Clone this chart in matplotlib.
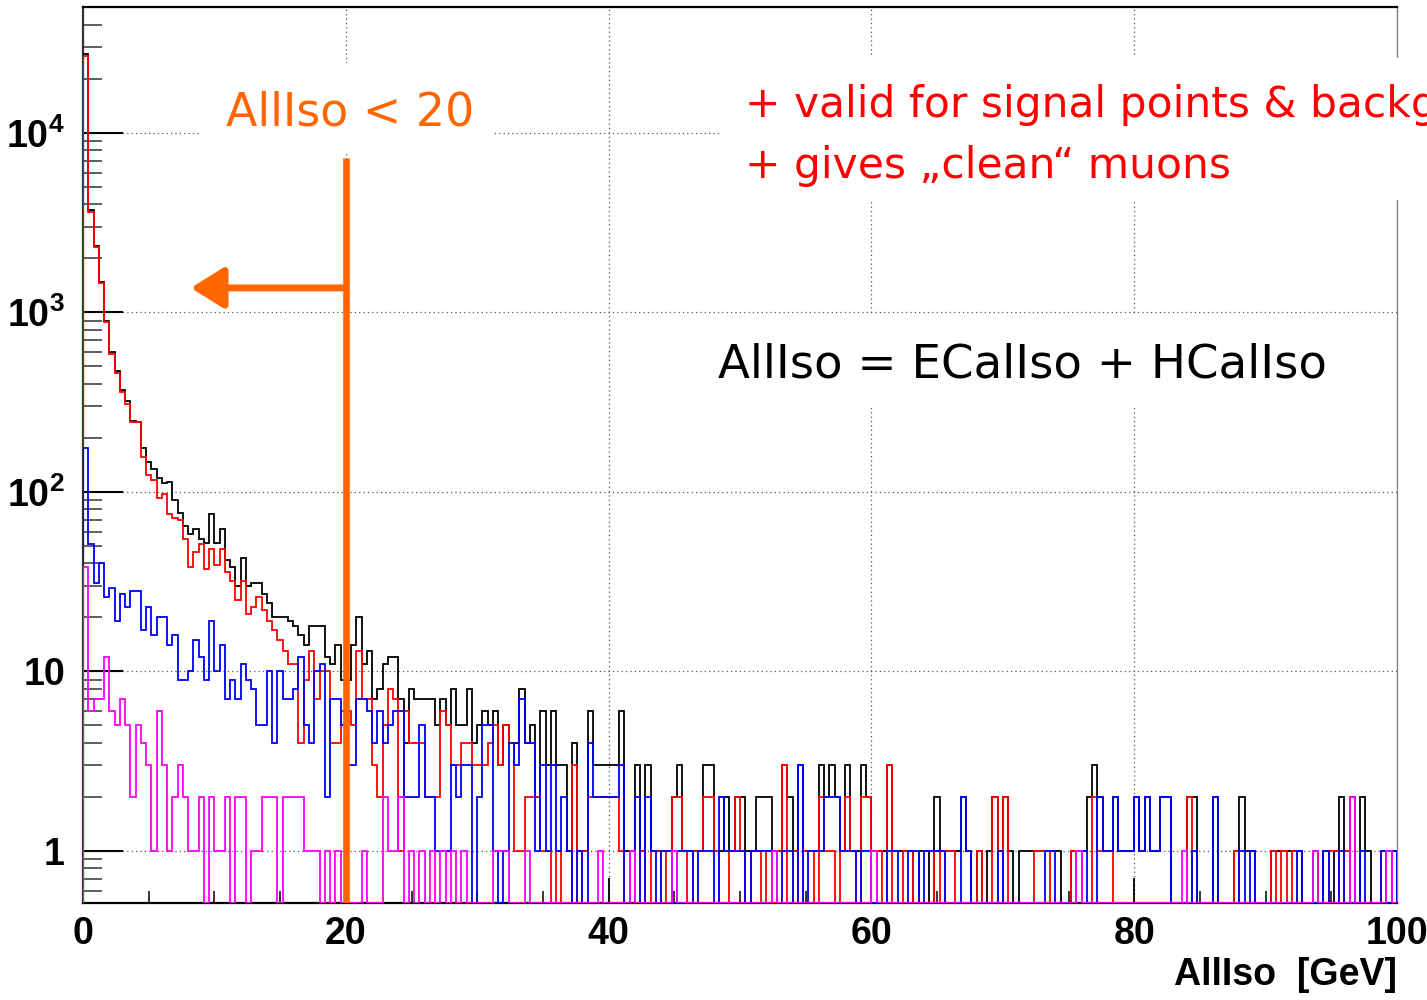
import numpy as np
import matplotlib

matplotlib.use("Agg")
import matplotlib.pyplot as plt
from matplotlib.patches import Rectangle
from matplotlib.ticker import FixedLocator, FixedFormatter, LogLocator, MultipleLocator, NullFormatter

# AllIso histograms, 250 bins of 0.4 GeV between 0 and 100 GeV
BIN_WIDTH = 0.4
N_BINS = 250

black_counts = [
    27500, 3700, 2350, 1480, 900, 600, 470, 370, 320, 250,
    245, 176, 147, 135, 120, 112, 114, 90, 76, 65,
    58, 62, 55, 52, 75, 52, 62, 42, 38, 30,
    43, 30, 31, 31, 27, 24, 20, 20, 20, 19,
    18, 16, 14, 18, 18, 18, 12, 11, 14, 9,
    9, 14, 20, 11, 13, 7, 8, 11, 12, 12,
    7, 4, 8, 7, 7, 7, 7, 5, 7, 5,
    8, 5, 5, 8, 4, 5, 6, 5, 6, 3,
    5, 4, 4, 8, 4, 5, 2, 6, 3, 6,
    3, 3, 1, 4, 1, 1, 6, 3, 3, 3,
    3, 3, 6, 1, 1, 3, 1, 3, 1, 1,
    1, 1, 2, 3, 1, 1, 1, 1, 3, 3,
    1, 1, 2, 1, 2, 2, 1, 1, 2, 2,
    2, 1, 1, 3, 2, 1, 3, 1, 1, 1,
    3, 2, 3, 2, 1, 3, 1, 1, 3, 2,
    1, 1, 1, 3, 1, 1, 1, 1, 0, 1,
    1, 0, 2, 1, 1, 1, 1, 2, 1, 0,
    1, 0, 1, 2, 1, 2, 1, 0, 1, 1,
    1, 1, 1, 1, 1, 1, 0, 0, 1, 1,
    1, 2, 3, 2, 1, 1, 2, 1, 1, 1,
    2, 1, 2, 1, 1, 2, 2, 0, 0, 0,
    2, 2, 0, 0, 0, 2, 0, 0, 0, 1,
    2, 1, 1, 0, 0, 0, 1, 1, 1, 1,
    1, 1, 0, 0, 1, 0, 1, 0, 1, 2,
    1, 2, 0, 2, 1, 0, 0, 1, 1, 1,
]
red_counts = [
    27000, 3650, 2330, 1450, 880, 590, 460, 360, 310, 245,
    245, 157, 124, 117, 92, 98, 75, 72, 70, 55,
    38, 46, 51, 37, 48, 39, 48, 36, 32, 25,
    32, 21, 23, 26, 22, 19, 17, 15, 13, 11,
    11, 4, 9, 13, 7, 10, 10, 4, 4, 6,
    6, 5, 13, 7, 7, 3, 2, 5, 8, 7,
    1, 6, 4, 4, 4, 2, 2, 2, 6, 5,
    3, 3, 4, 4, 3, 3, 3, 4, 5, 3,
    5, 4, 1, 1, 2, 2, 2, 1, 1, 0,
    1, 0, 0, 3, 0, 1, 2, 2, 2, 2,
    2, 2, 1, 0, 1, 0, 1, 0, 1, 1,
    0, 1, 2, 2, 1, 0, 1, 1, 2, 2,
    1, 0, 0, 1, 2, 1, 0, 1, 1, 0,
    1, 0, 1, 3, 0, 1, 0, 1, 1, 0,
    2, 1, 1, 0, 1, 2, 1, 0, 2, 2,
    0, 1, 0, 3, 0, 0, 1, 1, 0, 0,
    0, 0, 1, 0, 1, 1, 0, 0, 0, 0,
    1, 0, 0, 2, 0, 2, 0, 0, 0, 0,
    0, 1, 1, 1, 0, 0, 0, 0, 1, 1,
    0, 0, 2, 1, 1, 1, 0, 0, 0, 0,
    0, 0, 0, 0, 0, 0, 0, 0, 0, 0,
    2, 0, 0, 0, 0, 0, 0, 0, 0, 1,
    0, 0, 0, 0, 0, 0, 1, 0, 1, 0,
    1, 0, 0, 0, 0, 0, 0, 1, 1, 0,
    1, 0, 0, 0, 0, 0, 0, 1, 0, 0,
]
blue_counts = [
    176, 51, 31, 40, 26, 29, 19, 27, 23, 28,
    28, 17, 23, 16, 20, 20, 14, 16, 9, 9,
    10, 15, 12, 9, 19, 10, 14, 7, 9, 7,
    11, 9, 8, 5, 5, 10, 4, 10, 7, 7,
    8, 12, 5, 4, 10, 11, 2, 7, 7, 5,
    3, 3, 7, 7, 6, 4, 6, 4, 5, 6,
    6, 2, 2, 2, 5, 2, 2, 1, 1, 1,
    3, 2, 3, 3, 0, 2, 5, 5, 1, 0,
    1, 4, 3, 7, 4, 4, 1, 3, 1, 3,
    1, 2, 1, 0, 1, 0, 4, 2, 2, 2,
    2, 2, 3, 0, 1, 2, 0, 2, 1, 0,
    1, 1, 0, 1, 1, 1, 0, 1, 1, 1,
    0, 2, 1, 1, 1, 1, 0, 1, 1, 1,
    1, 1, 0, 1, 1, 0, 3, 0, 1, 1,
    1, 2, 2, 2, 1, 1, 1, 0, 1, 1,
    0, 0, 0, 1, 1, 0, 0, 1, 1, 0,
    1, 1, 1, 1, 0, 0, 0, 2, 1, 0,
    0, 0, 0, 0, 1, 0, 0, 0, 0, 0,
    0, 0, 0, 1, 1, 0, 0, 0, 0, 1,
    1, 0, 0, 2, 1, 1, 2, 1, 1, 1,
    2, 1, 2, 1, 1, 2, 2, 0, 0, 0,
    0, 1, 0, 0, 0, 2, 0, 0, 0, 0,
    1, 0, 1, 0, 0, 0, 0, 0, 0, 0,
    0, 1, 0, 0, 0, 0, 1, 0, 0, 1,
    0, 0, 0, 1, 0, 0, 0, 1, 0, 1,
]
magenta_counts = [
    38, 6, 7, 7, 12, 6, 5, 7, 5, 2,
    5, 4, 3, 1, 6, 3, 1, 2, 3, 2,
    1, 1, 2, 0, 2, 1, 1, 2, 0, 2,
    2, 0, 1, 1, 2, 2, 2, 0, 2, 2,
    2, 2, 1, 1, 1, 0, 1, 0, 1, 0,
    0, 0, 0, 1, 0, 0, 0, 2, 1, 1,
    2, 0, 1, 0, 1, 0, 1, 0, 1, 0,
    1, 0, 1, 0, 0, 0, 0, 0, 1, 1,
    1, 0, 0, 0, 1, 0, 0, 0, 0, 0,
    0, 0, 0, 0, 0, 0, 0, 0, 1, 0,
    0, 0, 0, 0, 1, 0, 0, 0, 0, 0,
    0, 0, 1, 0, 0, 0, 0, 0, 0, 0,
    0, 0, 0, 0, 0, 0, 0, 0, 0, 0,
    0, 1, 0, 0, 0, 0, 0, 0, 0, 0,
    0, 0, 0, 0, 0, 0, 0, 0, 0, 0,
    1, 0, 0, 0, 0, 0, 0, 0, 0, 0,
    0, 0, 0, 0, 0, 0, 0, 0, 0, 0,
    0, 0, 0, 0, 0, 0, 0, 0, 0, 0,
    0, 0, 0, 0, 0, 0, 0, 0, 0, 1,
    0, 0, 0, 0, 0, 0, 0, 0, 0, 0,
    0, 0, 0, 0, 0, 0, 0, 0, 0, 1,
    0, 0, 0, 0, 0, 0, 0, 0, 0, 0,
    0, 0, 0, 0, 0, 0, 0, 0, 0, 0,
    0, 0, 0, 0, 1, 0, 0, 0, 0, 0,
    0, 2, 0, 0, 0, 0, 0, 0, 1, 0,
]

y_ticks = [1, 10, 100, 1000, 10000]
y_tick_labels = ["1", "10", r"$\mathbf{10^{2}}$", r"$\mathbf{10^{3}}$", r"$\mathbf{10^{4}}$"]

CUT = 20.0            # AllIso cut [GeV]
CUT_LINE_TOP = 7260   # top of the orange cut line
ARROW_Y = 1370
ARROW_TIP = 8.2
Y_MIN, Y_MAX = 0.513, 50500
ORANGE = "#ff6600"

plt.rcParams["font.family"] = ["Liberation Sans", "DejaVu Sans"]
plt.rcParams["mathtext.fontset"] = "custom"
plt.rcParams["mathtext.bf"] = "Liberation Sans:bold"
plt.rcParams["mathtext.rm"] = "Liberation Sans:bold"

W, H = 1427, 1000
fig = plt.figure(figsize=(W / 100, H / 100), dpi=100)
ax = fig.add_axes([83 / W, 1 - 903 / H, (1397 - 83) / W, (903 - 6.7) / H])

edges = np.arange(N_BINS + 1) * BIN_WIDTH
series = [(black_counts, "#000000"), (red_counts, "#ff0000"),
          (blue_counts, "#0000ff"), (magenta_counts, "#ff00ff")]
for counts, col in series:
    v = np.asarray(counts, dtype=float)
    # empty bins drop to the frame bottom, as ROOT draws them on a log axis
    v = np.where(v > 0, v, Y_MIN)
    ax.stairs(v, edges, baseline=Y_MIN, color=col, lw=1.3, zorder=3)

ax.set_yscale("log")
ax.set_xlim(0, 100)
ax.set_ylim(Y_MIN, Y_MAX)

ax.xaxis.set_major_locator(MultipleLocator(20))
ax.xaxis.set_minor_locator(MultipleLocator(5))
ax.yaxis.set_major_locator(FixedLocator(y_ticks))
ax.yaxis.set_major_formatter(FixedFormatter(y_tick_labels))
ax.yaxis.set_minor_locator(LogLocator(base=10, subs=np.arange(2, 10)))
ax.yaxis.set_minor_formatter(NullFormatter())

ax.tick_params(axis="x", which="major", direction="in", length=18, width=1.3, pad=9,
               labelsize=27, colors="black")
ax.tick_params(axis="x", which="minor", direction="in", length=9, width=1.1)
ax.tick_params(axis="y", which="major", direction="in", length=29, width=1.5, pad=13,
               labelsize=27)
ax.tick_params(axis="y", which="minor", direction="in", length=14, width=1.1, color="#333333")
for lbl in ax.get_xticklabels() + ax.get_yticklabels():
    lbl.set_fontweight("bold")

ax.set_axisbelow(True)
ax.grid(True, which="major", linestyle=(0, (1, 2.5)), color="#555555", lw=0.9)

for side in ("left", "bottom", "top"):
    ax.spines[side].set_linewidth(1.6)
ax.spines["left"].set_color("#333333")
ax.spines["right"].set_color("#888888")
ax.spines["right"].set_linewidth(1.0)

ax.set_xlabel("AllIso  [GeV]", loc="right", fontsize=27, fontweight="bold", labelpad=4)

# cut line and arrow
ax.vlines(CUT, Y_MIN, CUT_LINE_TOP, colors=ORANGE, lw=4.8, zorder=6)
ax.annotate("", xy=(ARROW_TIP, ARROW_Y), xytext=(CUT, ARROW_Y),
            arrowprops=dict(arrowstyle="-|>,head_length=0.8,head_width=0.5", color=ORANGE,
                            lw=5, mutation_scale=25, shrinkA=0, shrinkB=0), zorder=6)

# white label boxes (cover grid and frame like the original)
for x0, y0, x1, y1 in [(200, 63, 492, 152), (720, 58, W, 200), (700, 315, 1392, 405)]:
    fig.add_artist(Rectangle((x0 / W, 1 - y1 / H), (x1 - x0) / W, (y1 - y0) / H,
                             transform=fig.transFigure, fc="white", ec="none", zorder=1))

ann = dict(family="DejaVu Sans", va="baseline", ha="left", zorder=2)
fig.text(226 / W, 1 - 125 / H, "AllIso < 20", color=ORANGE, fontsize=33, **ann)
fig.text(745 / W, 1 - 117 / H, "+ valid for signal points & background", color="#ff0000",
         fontsize=30.5, **ann)
fig.text(745 / W, 1 - 178 / H, "+ gives \u201eclean\u201c muons", color="#ff0000",
         fontsize=30.5, **ann)
fig.text(718 / W, 1 - 378 / H, "AllIso = ECalIso + HCalIso", color="black",
         fontsize=33.6, **ann)

fig.savefig("out.png", dpi=100)
